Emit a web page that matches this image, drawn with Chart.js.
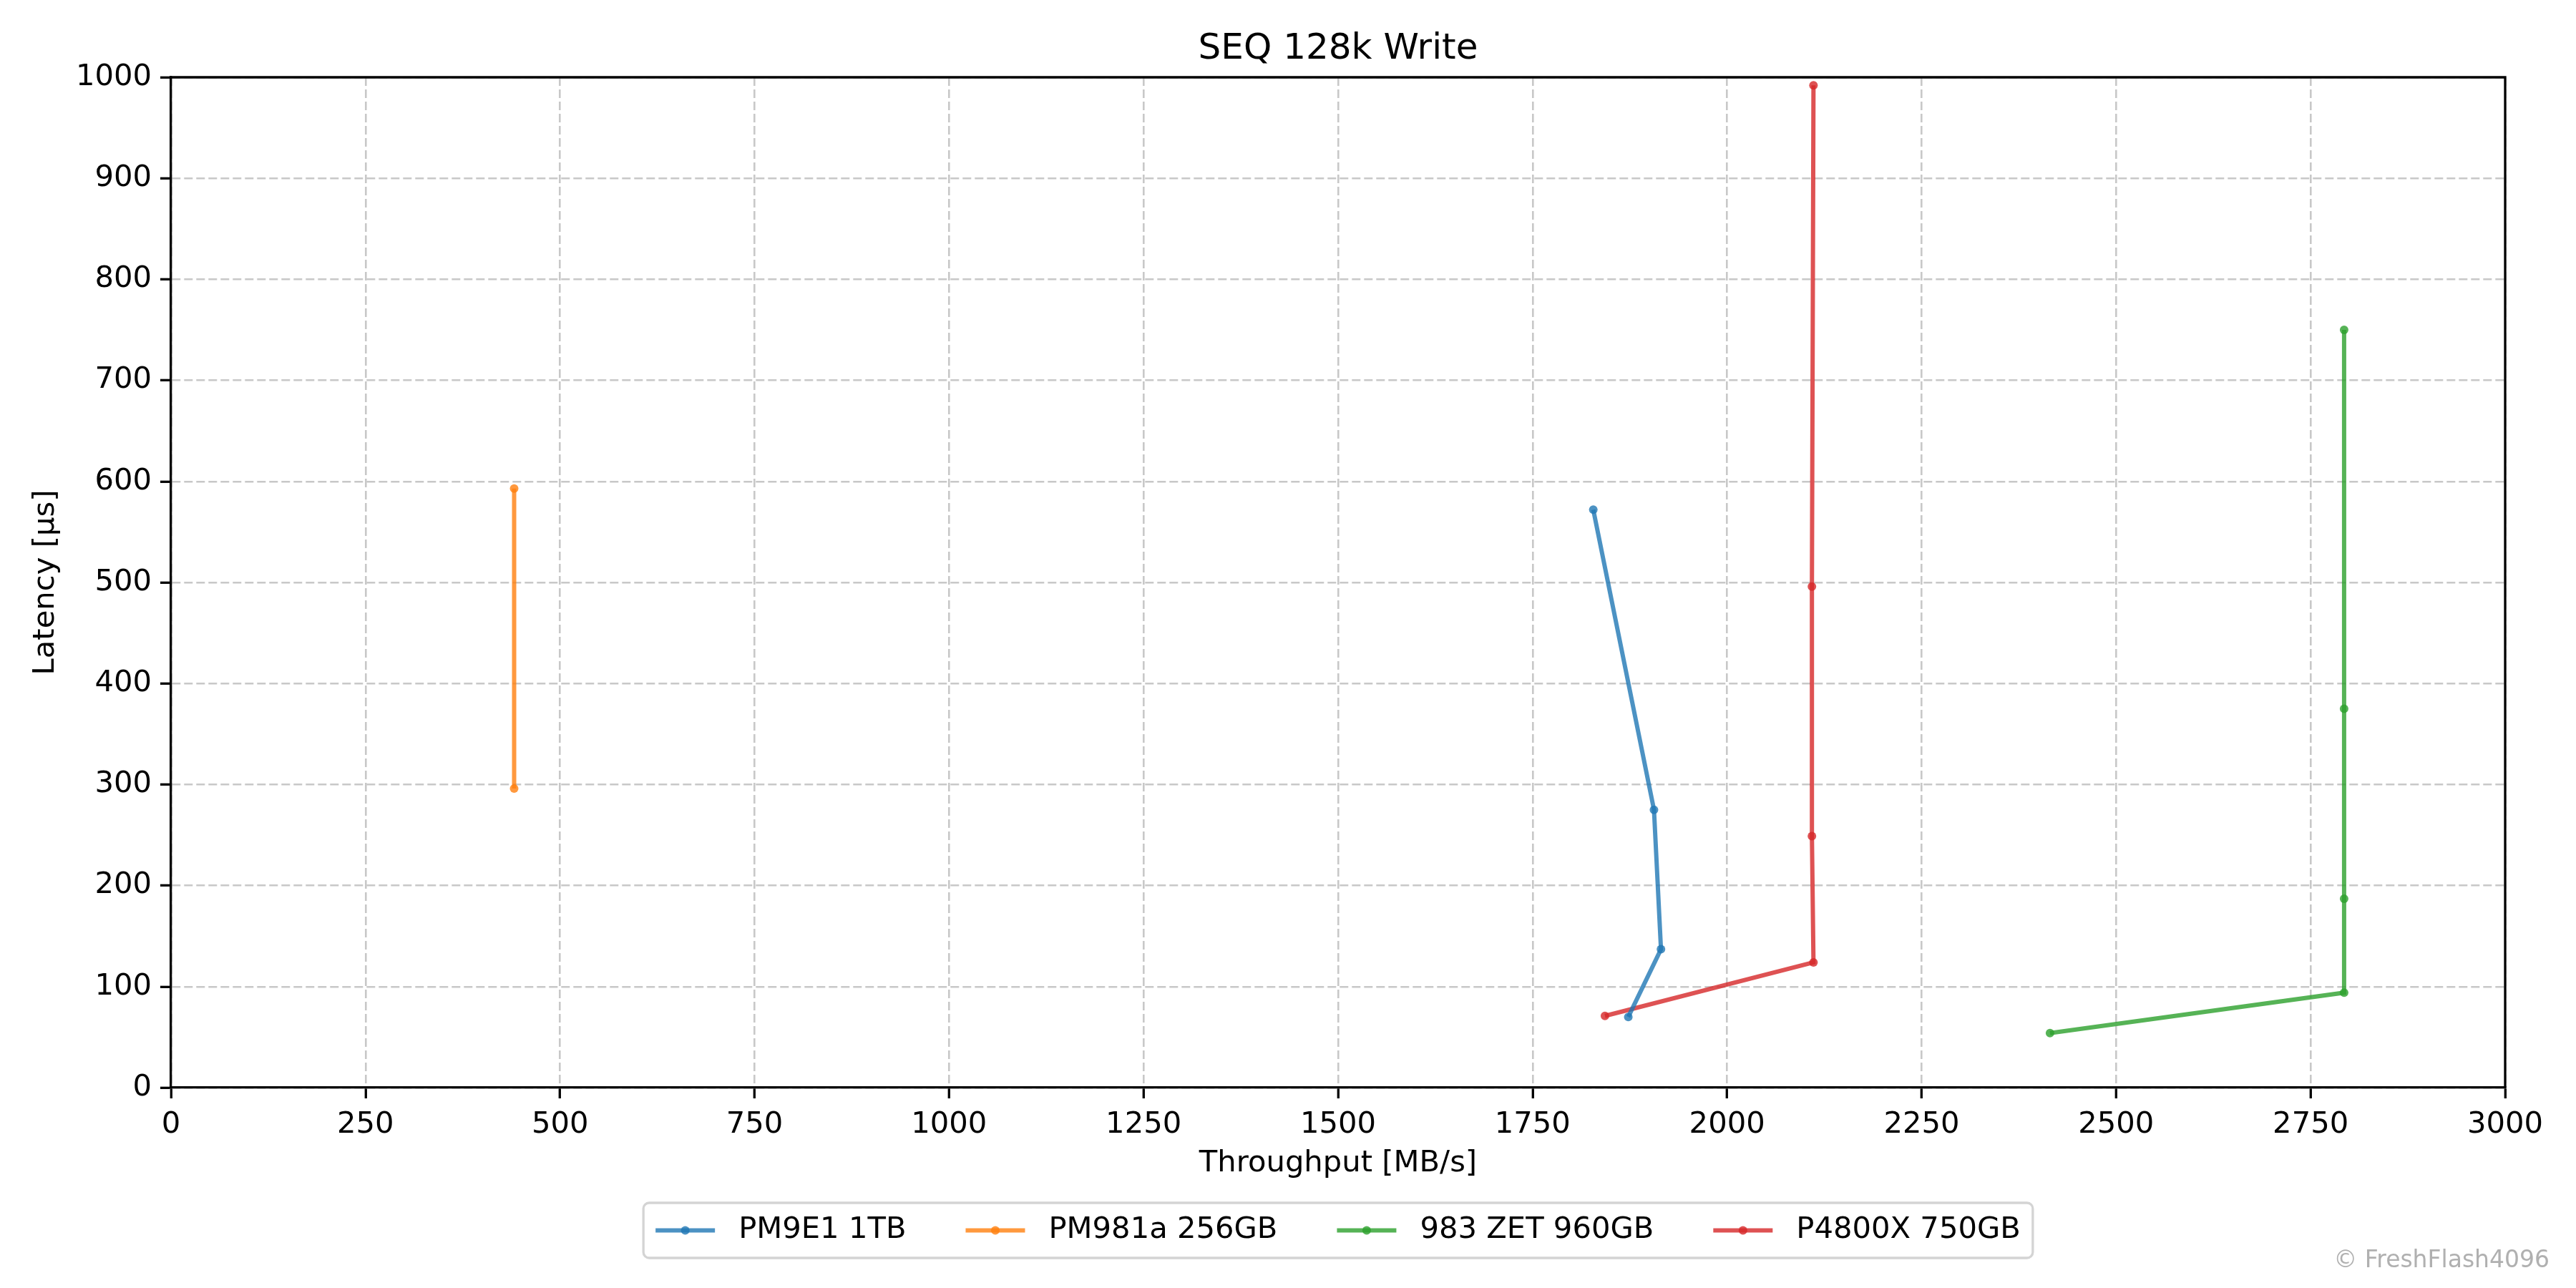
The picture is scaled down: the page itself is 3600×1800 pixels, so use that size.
<!DOCTYPE html>
<html>
<head>
<meta charset="utf-8">
<script src="https://cdn.jsdelivr.net/npm/chart.js@4/dist/chart.umd.min.js"></script>
<style>
  html, body { margin: 0; padding: 0; background: #fff; }
  #wrap { width: 3600px; height: 1800px; }
</style>
</head>
<body>
<div id="wrap"><canvas id="chart" width="3600" height="1800"></canvas></div>
<script>
// Series (throughput MB/s, latency us)
const pm9e1Throughput = [1873, 1915, 1906, 1828];
const pm9e1Latency = [70, 137, 275, 572];

const pm981aThroughput = [441, 441];
const pm981aLatency = [296, 593];

const zet983Throughput = [2415, 2793, 2793, 2793, 2793];
const zet983Latency = [54, 94, 187, 375, 750];

const p4800xThroughput = [1843, 2111, 2109, 2109, 2111];
const p4800xLatency = [71, 124, 249, 496, 992];

const seriesNames = ['PM9E1 1TB', 'PM981a 256GB', '983 ZET 960GB', 'P4800X 750GB'];
const seriesColors = ['31,119,180', '255,127,14', '44,160,44', '214,39,40'];

const xTicks = [0, 250, 500, 750, 1000, 1250, 1500, 1750, 2000, 2250, 2500, 2750, 3000];
const yTicks = [0, 100, 200, 300, 400, 500, 600, 700, 800, 900, 1000];

const chartTitle = 'SEQ 128k Write';
const FONT = "'DejaVu Sans', sans-serif";
const FS = 41.7;

function toPoints(xs, ys) {
    return xs.map((x, i) => ({ x: x, y: ys[i] }));
}

const allSeries = [
    toPoints(pm9e1Throughput, pm9e1Latency),
    toPoints(pm981aThroughput, pm981aLatency),
    toPoints(zet983Throughput, zet983Latency),
    toPoints(p4800xThroughput, p4800xLatency)
];

const datasets = allSeries.map((pts, i) => ({
    label: seriesNames[i],
    data: pts,
    showLine: true,
    borderColor: 'rgba(' + seriesColors[i] + ',0.8)',
    backgroundColor: 'rgba(' + seriesColors[i] + ',0.8)',
    borderWidth: 6,
    pointRadius: 6,
    pointBorderWidth: 0,
    pointHoverRadius: 6
}));

// title, frame, legend and watermark drawn like matplotlib
const extras = {
    id: 'extras',
    afterDraw(chart) {
        const ctx = chart.ctx;
        const a = chart.chartArea;
        const cx = (a.left + a.right) / 2;
        ctx.save();
        ctx.strokeStyle = '#000';
        ctx.lineWidth = 3.3;
        ctx.beginPath();
        ctx.moveTo(a.left, a.top);
        ctx.lineTo(a.right, a.top);
        ctx.lineTo(a.right, a.bottom);
        ctx.stroke();

        // title
        ctx.font = '50px ' + FONT;
        ctx.fillStyle = '#000';
        ctx.textAlign = 'center';
        ctx.textBaseline = 'middle';
        ctx.fillText(chartTitle, cx, 69);

        // legend
        ctx.font = FS + 'px ' + FONT;
        const handle = 83, textPad = 33, colSpace = 83, pad = 17;
        const widths = seriesNames.map(n => ctx.measureText(n).width);
        let total = pad * 2;
        widths.forEach((w, i) => { total += handle + textPad + w + (i > 0 ? colSpace : 0); });
        const boxLeft = cx - total / 2;
        const boxTop = 1681, boxH = 77;
        const cy = boxTop + boxH / 2;
        ctx.fillStyle = 'rgba(255,255,255,0.8)';
        ctx.strokeStyle = '#d4d4d4';
        ctx.lineWidth = 3.3;
        ctx.beginPath();
        ctx.roundRect(boxLeft, boxTop, total, boxH, 8);
        ctx.fill();
        ctx.stroke();
        let x = boxLeft + pad;
        seriesNames.forEach((name, i) => {
            const col = 'rgba(' + seriesColors[i] + ',0.8)';
            ctx.strokeStyle = col;
            ctx.lineWidth = 6;
            ctx.beginPath();
            ctx.moveTo(x, cy);
            ctx.lineTo(x + handle, cy);
            ctx.stroke();
            ctx.fillStyle = col;
            ctx.beginPath();
            ctx.arc(x + handle / 2, cy, 6, 0, Math.PI * 2);
            ctx.fill();
            ctx.fillStyle = '#000';
            ctx.textAlign = 'left';
            ctx.textBaseline = 'middle';
            ctx.fillText(name, x + handle + textPad, cy);
            x += handle + textPad + widths[i] + colSpace;
        });

        // watermark
        ctx.font = '33px ' + FONT;
        ctx.fillStyle = '#b0b0b0';
        ctx.textAlign = 'right';
        ctx.textBaseline = 'middle';
        ctx.fillText('\u00a9 FreshFlash4096', 3563, 1762);
        ctx.restore();
    }
};

const gridOpts = {
    color: '#c8c8c8',
    lineWidth: 2.6,
    drawTicks: true,
    tickLength: 15,
    tickColor: '#000',
    tickWidth: 3.3,
    tickBorderDash: []
};

const borderOpts = { color: '#000', width: 3.3, dash: [12, 5] };

new Chart(document.getElementById('chart'), {
    type: 'scatter',
    data: { datasets: datasets },
    options: {
        responsive: false,
        animation: false,
        events: [],
        layout: { padding: { left: 0, right: 99, top: 108, bottom: 130 } },
        plugins: {
            legend: { display: false },
            tooltip: { enabled: false },
            title: { display: false }
        },
        scales: {
            x: {
                type: 'linear',
                min: 0,
                max: 3000,
                afterBuildTicks: s => { s.ticks = xTicks.map(v => ({ value: v })); },
                afterFit: s => { s.height = 150; },
                grid: gridOpts,
                border: borderOpts,
                ticks: { color: '#000', padding: 12, maxRotation: 0, font: { family: FONT, size: FS }, callback: v => String(v) },
                title: {
                    display: true,
                    text: 'Throughput [MB/s]',
                    color: '#000',
                    font: { family: FONT, size: FS },
                    padding: { top: 0, bottom: 19 }
                }
            },
            y: {
                type: 'linear',
                min: 0,
                max: 1000,
                afterBuildTicks: s => { s.ticks = yTicks.map(v => ({ value: v })); },
                afterFit: s => { s.width = 239; },
                grid: gridOpts,
                border: borderOpts,
                ticks: { color: '#000', padding: 12, font: { family: FONT, size: FS }, callback: v => String(v) },
                title: {
                    display: true,
                    text: 'Latency [\u00b5s]',
                    color: '#000',
                    font: { family: FONT, size: FS },
                    padding: { top: 39, bottom: 0 }
                }
            }
        }
    },
    plugins: [extras]
});
</script>
</body>
</html>
